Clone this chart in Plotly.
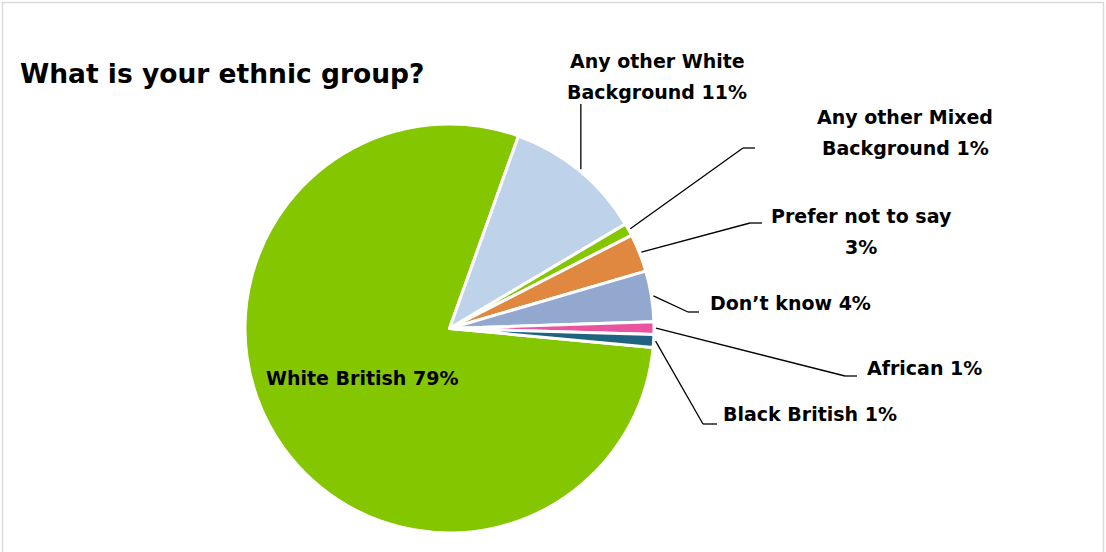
import math
import plotly.graph_objects as go

# Survey answers, clockwise from the largest slice
labels = ["White British", "Any other White Background", "Any other Mixed Background",
          "Prefer not to say", "Don't know", "African", "Black British"]
values = [79, 11, 1, 3, 4, 1, 1]
colors = ["#84C600", "#BED3E9", "#84C600", "#E0883F", "#93A8CF", "#E8559E", "#1F6381"]

# Text shown next to each slice, one entry per printed line
label_lines = [["White British 79%"], ["Any other White", "Background 11%"],
               ["Any other Mixed", "Background 1%"], ["Prefer not to say", "3%"],
               ["Don\u2019t know 4%"], ["African 1%"], ["Black British 1%"]]

W, H = 1106, 552
CX, CY, R = 449.5, 328.5, 204.5
ROTATION = 95.3
FONT = "DejaVu Sans"
LABEL_SIZE = 19
LINE_GAP = 31


def px(x, y):
    return x / W, 1 - y / H


fig = go.Figure()
fig.add_trace(go.Pie(
    labels=labels, values=values, sort=False, direction="clockwise",
    rotation=ROTATION, marker=dict(colors=colors, line=dict(color="white", width=3)),
    textinfo="none", hoverinfo="label+percent", showlegend=False,
    domain=dict(x=[(CX - R) / W, (CX + R) / W], y=[1 - (CY + R) / H, 1 - (CY - R) / H]),
))

# mid-angle of every slice, measured clockwise from 12 o'clock
total = sum(values)
mids = []
acc = ROTATION
for v in values:
    span = 360 * v / total
    mids.append(acc + span / 2)
    acc += span


def edge_point(i, extra=2):
    a = math.radians(mids[i])
    return CX + (R + extra) * math.sin(a), CY - (R + extra) * math.cos(a)


# label position (centre x, first line y) and leader elbow / end for outside labels
outside = {
    1: dict(text=(657, 61), elbow=None, end=(583, 104)),
    2: dict(text=(905, 117), elbow=(743, 148), end=(755, 148)),
    3: dict(text=(861, 216), elbow=(750, 223), end=(762, 223)),
    4: dict(text=(790, 303), elbow=(688, 312), end=(699, 312)),
    5: dict(text=(924, 368), elbow=(845, 376), end=(857, 376)),
    6: dict(text=(810, 414), elbow=(703, 424), end=(717, 424)),
}

shapes = []
annotations = []


def add_label(lines, cx, y0):
    for k, line in enumerate(lines):
        tx, ty = px(cx, y0 + k * LINE_GAP)
        annotations.append(dict(text=f"<b>{line}</b>", x=tx, y=ty, xref="paper", yref="paper",
                                showarrow=False, xanchor="center", yanchor="middle",
                                font=dict(family=FONT, size=LABEL_SIZE, color="black")))


for i, spec in outside.items():
    sx, sy = edge_point(i)
    if spec["elbow"] is None:
        pts = [(sx, sy), (sx, spec["end"][1])]
    else:
        pts = [(sx, sy), spec["elbow"], spec["end"]]
    for (x0, y0), (x1, y1) in zip(pts[:-1], pts[1:]):
        a0, b0 = px(x0, y0)
        a1, b1 = px(x1, y1)
        shapes.append(dict(type="line", xref="paper", yref="paper",
                           x0=a0, y0=b0, x1=a1, y1=b1,
                           line=dict(color="black", width=1.3)))
    add_label(label_lines[i], *spec["text"])

# label drawn inside the largest slice
add_label(label_lines[0], 362, 378)

# chart frame
shapes.append(dict(type="rect", xref="paper", yref="paper", x0=2.5 / W, x1=1 - 2.5 / W,
                   y0=-0.05, y1=1 - 2.5 / H, line=dict(color="#D9D9D9", width=1.5),
                   fillcolor="rgba(0,0,0,0)"))

tx, ty = px(18, 73)
annotations.append(dict(text="<b>What is your ethnic group?</b>", x=tx, y=ty, xref="paper", yref="paper",
                        showarrow=False, xanchor="left", yanchor="middle",
                        font=dict(family=FONT, size=26.5, color="black")))

fig.update_layout(width=W, height=H, margin=dict(l=0, r=0, t=0, b=0),
                  paper_bgcolor="white", plot_bgcolor="white",
                  shapes=shapes, annotations=annotations)
fig.write_html("out.html")
